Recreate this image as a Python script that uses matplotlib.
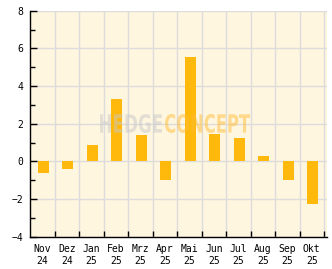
import numpy as np
import matplotlib
matplotlib.use("Agg")
import matplotlib.pyplot as plt
from matplotlib.textpath import TextPath
from matplotlib.patches import PathPatch
from matplotlib.font_manager import FontProperties
from matplotlib.transforms import Affine2D

# monthly values
months = ["Nov", "Dez", "Jan", "Feb", "Mrz", "Apr", "Mai", "Jun", "Jul", "Aug", "Sep", "Okt"]
years = ["24", "24", "25", "25", "25", "25", "25", "25", "25", "25", "25", "25"]
values = [-0.64, -0.42, 0.88, 3.32, 1.41, -1.01, 5.54, 1.46, 1.25, 0.30, -1.01, -2.28]

bar_color = "#FFB80C"
bg_color = "#FFF6DF"
grid_color = "#DCDCDC"

W, H = 332, 269
fig = plt.figure(figsize=(W / 100, H / 100), dpi=100)
ax = fig.add_axes([30.3 / W, (H - 236.7) / H, (326.7 - 30.3) / W, (236.7 - 10.7) / H])
ax.set_facecolor(bg_color)

x = np.arange(len(values))
ax.bar(x + 0.04, values, width=0.45, color=bar_color, zorder=3)

ax.set_xlim(-0.5, 11.61)
ax.set_ylim(-4, 8)

# category boundaries carry ticks and grid, labels sit in between
ax.set_xticks(np.arange(0.5, 12, 1))
ax.set_xticklabels([])
ax.set_xticks(x, minor=True)
ax.set_xticklabels([m + "\n" + yy for m, yy in zip(months, years)], minor=True,
                   family="DejaVu Sans Mono", fontsize=7, linespacing=1.3)
ax.tick_params(axis="x", which="major", direction="in", length=4, width=1, color="black")
ax.tick_params(axis="x", which="minor", length=0, pad=5)

ax.set_yticks(np.arange(-4, 9, 2))
ax.set_yticks(np.arange(-3, 8, 2), minor=True)
ax.tick_params(axis="y", which="major", direction="in", length=5, width=1, pad=5)
ax.tick_params(axis="y", which="minor", direction="in", length=3.5, width=1)
for lab in ax.get_yticklabels():
    lab.set_family("DejaVu Sans Mono")
    lab.set_fontsize(7)
ax.yaxis.set_major_formatter(matplotlib.ticker.FuncFormatter(lambda v, p: f"{int(v)}".replace("-", "\u2212")))

ax.grid(True, which="major", color=grid_color, linewidth=1, zorder=0)
ax.set_axisbelow(True)

for side in ["top", "right"]:
    ax.spines[side].set_visible(False)
for side in ["left", "bottom"]:
    ax.spines[side].set_linewidth(1)
    ax.spines[side].set_zorder(4)


# watermark, squeezed into the boxes it takes in the reference (pixel coords, top-left origin)
def stamp(text, x0, x1, y0, y1, color):
    tp = TextPath((0, 0), text, size=1, prop=FontProperties(family="DejaVu Sans", weight="bold"))
    ext = tp.get_extents()
    tr = (Affine2D().translate(-ext.x0, -ext.y0)
          .scale((x1 - x0) / ext.width, (y1 - y0) / ext.height)
          .translate(x0, H - y1))
    fig.add_artist(PathPatch(tr.transform_path(tp), facecolor=color, edgecolor="none",
                             alpha=0.5, transform=matplotlib.transforms.IdentityTransform(),
                             zorder=5))


stamp("HEDGE", 100, 162, 114, 133, "#C8C8C8")
stamp("CONCEPT", 165, 250, 114, 133, "#FFBC35")

fig.savefig("out.png", dpi=100, facecolor="white")
